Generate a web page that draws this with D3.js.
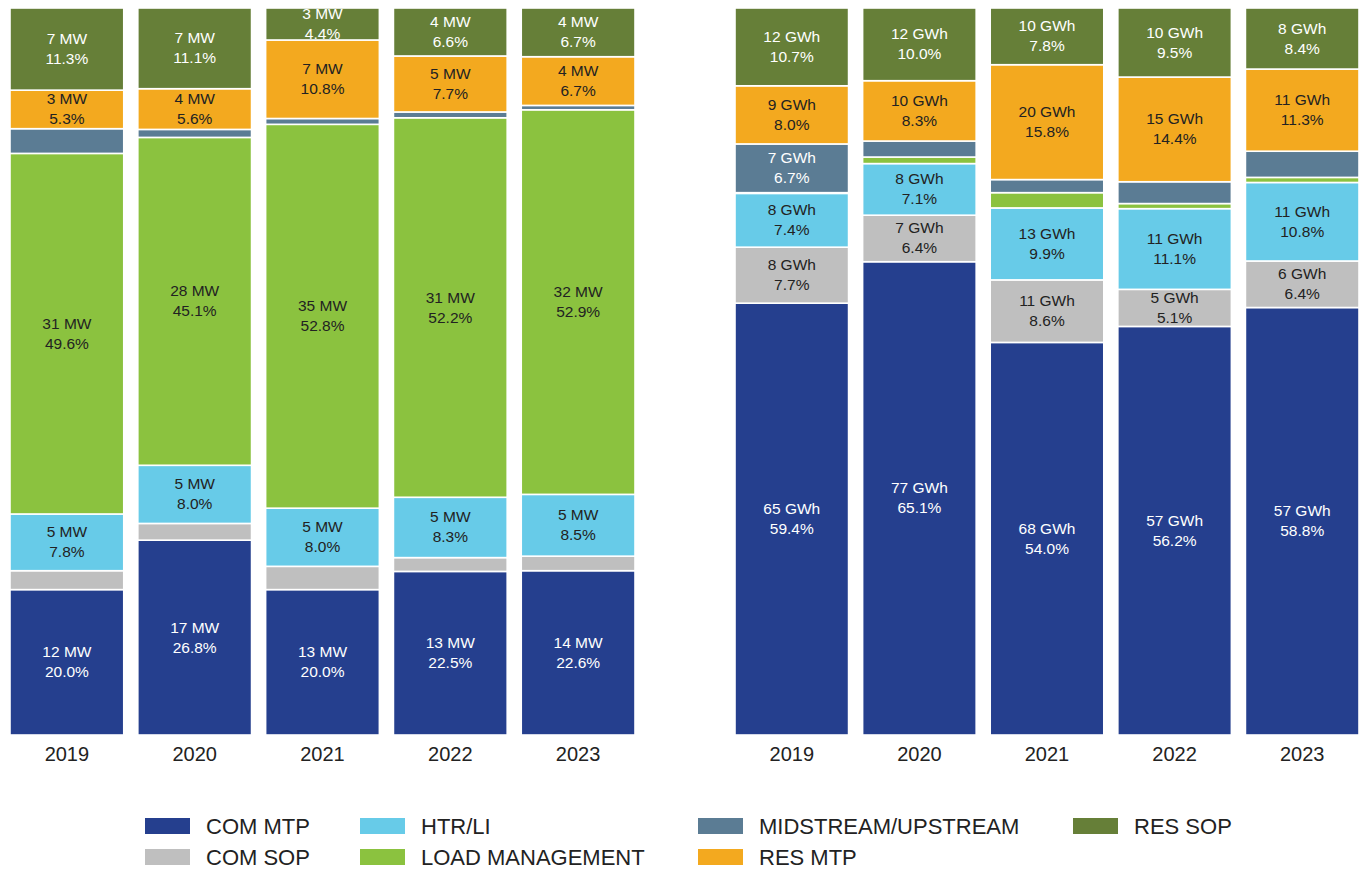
<!DOCTYPE html>
<html>
<head>
<meta charset="utf-8">
<script src="https://cdn.jsdelivr.net/npm/d3@7"></script>
<style>
  html, body { margin: 0; padding: 0; background: #fff; }
  svg { display: block; font-family: "Liberation Sans", Arial, sans-serif; }
</style>
</head>
<body>
<svg id="chart" width="1368" height="869"></svg>
<script>
// ---------- DATA ----------
const years = ["2019", "2020", "2021", "2022", "2023"];
const categories = ["COM MTP", "COM SOP", "HTR/LI", "LOAD MANAGEMENT", "MIDSTREAM/UPSTREAM", "RES MTP", "RES SOP"];
const colors = ["#253f8e", "#bfbfbf", "#67cbe8", "#8bc23f", "#5b7c94", "#f3a91f", "#667f38"];
const textColors = ["#ffffff", "#222222", "#222222", "#222222", "#ffffff", "#222222", "#ffffff"];

// Demand (MW) share, % per category (rows follow categories), per year
const mwComMtp   = [20.0, 26.8, 20.0, 22.5, 22.6];
const mwComSop   = [2.6, 2.3, 3.2, 1.9, 2.0];
const mwHtrLi    = [7.8, 8.0, 8.0, 8.3, 8.5];
const mwLoadMgmt = [49.6, 45.1, 52.8, 52.2, 52.9];
const mwMidUp    = [3.4, 1.1, 0.8, 0.8, 0.6];
const mwResMtp   = [5.3, 5.6, 10.8, 7.7, 6.7];
const mwResSop   = [11.3, 11.1, 4.4, 6.6, 6.7];
// MW amounts shown in labels (null = not labelled)
const mwAmtComMtp   = [12, 17, 13, 13, 14];
const mwAmtComSop   = [null, null, null, null, null];
const mwAmtHtrLi    = [5, 5, 5, 5, 5];
const mwAmtLoadMgmt = [31, 28, 35, 31, 32];
const mwAmtMidUp    = [null, null, null, null, null];
const mwAmtResMtp   = [3, 4, 7, 5, 4];
const mwAmtResSop   = [7, 7, 3, 4, 4];

// Energy (GWh) share, %
const gwhComMtp   = [59.4, 65.1, 54.0, 56.2, 58.8];
const gwhComSop   = [7.7, 6.4, 8.6, 5.1, 6.4];
const gwhHtrLi    = [7.4, 7.1, 9.9, 11.1, 10.8];
const gwhLoadMgmt = [0.1, 0.9, 2.1, 0.7, 0.7];
const gwhMidUp    = [6.7, 2.2, 1.8, 3.0, 3.6];
const gwhResMtp   = [8.0, 8.3, 15.8, 14.4, 11.3];
const gwhResSop   = [10.7, 10.0, 7.8, 9.5, 8.4];
const gwhAmtComMtp   = [65, 77, 68, 57, 57];
const gwhAmtComSop   = [8, 7, 11, 5, 6];
const gwhAmtHtrLi    = [8, 8, 13, 11, 11];
const gwhAmtLoadMgmt = [null, null, null, null, null];
const gwhAmtMidUp    = [7, null, null, null, null];
const gwhAmtResMtp   = [9, 10, 20, 15, 11];
const gwhAmtResSop   = [12, 12, 10, 10, 8];

// ---------- BUILD ----------
function buildRows(shares, amounts) {
  return years.map((y, i) => {
    const row = { year: y };
    categories.forEach((c, k) => {
      row[c] = shares[k][i];
      row[c + "_amt"] = amounts[k][i];
    });
    return row;
  });
}
const mwRows = buildRows(
  [mwComMtp, mwComSop, mwHtrLi, mwLoadMgmt, mwMidUp, mwResMtp, mwResSop],
  [mwAmtComMtp, mwAmtComSop, mwAmtHtrLi, mwAmtLoadMgmt, mwAmtMidUp, mwAmtResMtp, mwAmtResSop]);
const gwhRows = buildRows(
  [gwhComMtp, gwhComSop, gwhHtrLi, gwhLoadMgmt, gwhMidUp, gwhResMtp, gwhResSop],
  [gwhAmtComMtp, gwhAmtComSop, gwhAmtHtrLi, gwhAmtLoadMgmt, gwhAmtMidUp, gwhAmtResMtp, gwhAmtResSop]);

const svg = d3.select("#chart");
const plotTop = 8, plotBottom = 735;
const color = d3.scaleOrdinal().domain(categories).range(colors);
const tcolor = d3.scaleOrdinal().domain(categories).range(textColors);

function panel(rows, x0, x1, unit) {
  const x = d3.scaleBand().domain(years).range([x0, x1]).paddingInner(0.11).paddingOuter(0);
  const stack = d3.stack().keys(categories).offset(d3.stackOffsetExpand);
  const series = stack(rows);
  const y = d3.scaleLinear().domain([0, 1]).range([plotBottom, plotTop]);
  const g = svg.append("g");

  const layers = g.selectAll("g.layer").data(series).join("g")
    .attr("class", "layer").attr("fill", d => color(d.key));
  layers.selectAll("rect").data(d => d).join("rect")
    .attr("x", d => x(d.data.year))
    .attr("width", x.bandwidth())
    .attr("y", d => y(d[1]))
    .attr("height", d => Math.max(0, y(d[0]) - y(d[1])))
    .attr("stroke", "#ffffff").attr("stroke-width", 1.6);

  // labels
  series.forEach(s => {
    s.forEach(p => {
      const amt = p.data[s.key + "_amt"];
      if (amt == null) return;
      const cy = (y(p[0]) + y(p[1])) / 2;
      const cx = x(p.data.year) + x.bandwidth() / 2;
      const t = g.append("text").attr("text-anchor", "middle")
        .attr("fill", tcolor(s.key)).attr("font-size", 15.5);
      t.append("tspan").attr("x", cx).attr("y", cy - 5).text(amt + " " + unit);
      t.append("tspan").attr("x", cx).attr("y", cy + 15).text(p.data[s.key].toFixed(1) + "%");
    });
  });

  // axis
  const ax = g.append("g").attr("transform", `translate(0,${plotBottom})`)
    .call(d3.axisBottom(x).tickSize(0).tickPadding(9));
  ax.select(".domain").remove();
  ax.selectAll("text").attr("font-size", 20).attr("fill", "#222")
    .attr("font-family", "\"Liberation Sans\", Arial, sans-serif").attr("dy", "0.85em");
}

panel(mwRows, 10, 635, "MW");
panel(gwhRows, 735, 1359, "GWh");

// ---------- LEGEND ----------
const legendItems = [
  { key: "COM MTP", x: 145, row: 0 },
  { key: "HTR/LI", x: 360, row: 0 },
  { key: "MIDSTREAM/UPSTREAM", x: 698, row: 0 },
  { key: "RES SOP", x: 1073, row: 0 },
  { key: "COM SOP", x: 145, row: 1 },
  { key: "LOAD MANAGEMENT", x: 360, row: 1 },
  { key: "RES MTP", x: 698, row: 1 }
];
const lg = svg.append("g");
const li = lg.selectAll("g").data(legendItems).join("g")
  .attr("transform", d => `translate(${d.x},${818 + d.row * 31})`);
li.append("rect").attr("width", 45).attr("height", 16).attr("fill", d => color(d.key));
li.append("text").attr("x", 61).attr("y", 15.5).attr("font-size", 22).attr("fill", "#222").text(d => d.key);
</script>
</body>
</html>
